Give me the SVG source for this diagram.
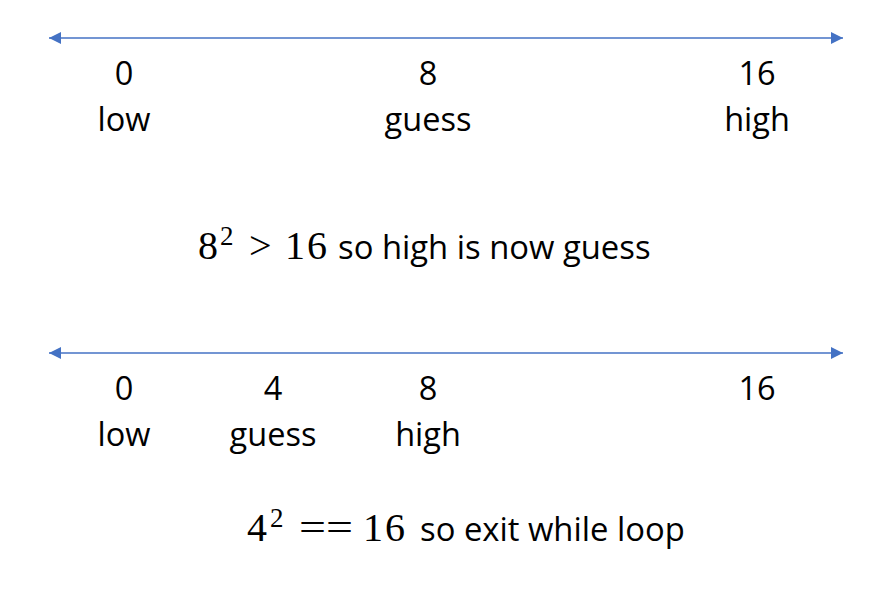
<svg xmlns="http://www.w3.org/2000/svg" width="882" height="590" viewBox="0 0 882 590">
<style>
.t{font-family:"Open Sans","Noto Sans",sans-serif;font-size:32.5px;fill:#000;text-anchor:middle}
.m{font-family:"Liberation Serif","DejaVu Serif",serif;font-size:40px;fill:#000}
.sup{font-family:"Liberation Serif","DejaVu Serif",serif;font-size:27px;fill:#000}
.s{font-family:"Open Sans","Noto Sans",sans-serif;font-size:32.8px;fill:#000}
.ln{stroke:#4472C4;stroke-width:1.5;fill:none;marker-start:url(#a);marker-end:url(#a)}
</style>
<defs>
<marker id="a" viewBox="0 0 10 10" refX="10" refY="5" markerWidth="12" markerHeight="12" markerUnits="userSpaceOnUse" orient="auto-start-reverse">
<path d="M0,0 L10,5 L0,10 Z" fill="#4472C4"/>
</marker>
</defs>
<g id="connectors">
<line class="ln" x1="49" y1="38" x2="843" y2="38"/>
<line class="ln" x1="49" y1="353" x2="843" y2="353"/>
</g>
<g id="row1">
<text class="t" x="124" y="85">0</text>
<text class="t" x="124" y="131">low</text>
<text class="t" x="428" y="85">8</text>
<text class="t" x="428" y="131">guess</text>
<text class="t" x="757" y="85">16</text>
<text class="t" x="757" y="131">high</text>
</g>
<g id="note1">
<text class="m" x="198" y="259">8</text>
<text class="sup" x="220" y="245">2</text>
<text class="m" x="249" y="259">&gt;</text>
<text class="m" x="285" y="259" letter-spacing="2">16</text>
<text class="s" x="338" y="259">so high is now guess</text>
</g>
<g id="row2">
<text class="t" x="124" y="400">0</text>
<text class="t" x="124" y="446">low</text>
<text class="t" x="273" y="400">4</text>
<text class="t" x="273" y="446">guess</text>
<text class="t" x="428" y="400">8</text>
<text class="t" x="428" y="446">high</text>
<text class="t" x="757" y="400">16</text>
</g>
<g id="note2">
<text class="m" x="247" y="541">4</text>
<text class="sup" x="270" y="527">2</text>
<text class="m" x="299" y="541" textLength="54" lengthAdjust="spacingAndGlyphs">==</text>
<text class="m" x="363" y="541" letter-spacing="2">16</text>
<text class="s" x="420" y="541">so exit while loop</text>
</g>
</svg>
